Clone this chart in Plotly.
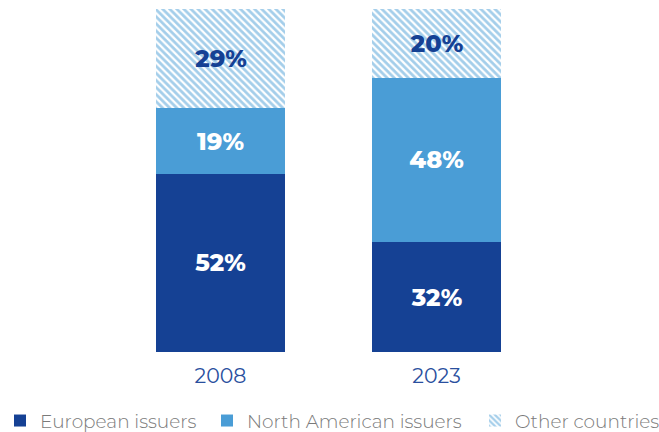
import plotly.graph_objects as go

years = ["2008", "2023"]
european = [52, 32]
north_american = [19, 48]
other = [29, 20]

DARK = "#154194"
LIGHT = "#4a9dd6"
LABEL_FONT = "Montserrat, Inter, sans-serif"

W, H = 659, 432
PLOT_T, PLOT_B = 9, 80
plot_h = H - PLOT_T - PLOT_B

# category axis stretched across the full width; bar centres sit at
# 220.5 px and 436.5 px, i.e. 216 px per category step
step_px = 216.0
x_lo = -220.5 / step_px
x_hi = 1 + (W - 436.5) / step_px

fig = go.Figure()

fig.add_trace(go.Bar(
    name="European issuers", x=years, y=european, legend="legend",
    marker=dict(color=DARK, line=dict(width=0)),
    texttemplate="%{y}%", textposition="inside", insidetextanchor="middle",
    textfont=dict(color="white", size=24, family=LABEL_FONT, weight=800),
))
fig.add_trace(go.Bar(
    name="North American issuers", x=years, y=north_american, legend="legend2",
    marker=dict(color=LIGHT, line=dict(width=0)),
    texttemplate="%{y}%", textposition="inside", insidetextanchor="middle",
    textfont=dict(color="white", size=24, family=LABEL_FONT, weight=800),
))
fig.add_trace(go.Bar(
    name="Other countries", x=years, y=other, legend="legend3",
    marker=dict(color="white", line=dict(width=0),
                pattern=dict(shape="\\", fgcolor=LIGHT, bgcolor="white",
                             size=5, solidity=0.55)),
    texttemplate="%{y}%", textposition="inside", insidetextanchor="middle",
    textfont=dict(color=DARK, size=24, family=LABEL_FONT, weight=800),
))

# one single-entry legend per series, laid out in a row under the bars
legend_y = -(421 - (H - PLOT_B)) / plot_h
legend_style = dict(
    orientation="h", xref="paper", yref="paper", y=legend_y,
    xanchor="left", yanchor="middle", bgcolor="rgba(0,0,0,0)",
    font=dict(size=18.5, color="#7a7a7a", family=LABEL_FONT, weight=300),
    itemclick=False, itemdoubleclick=False,
)

fig.update_layout(
    barmode="stack",
    bargap=0.4,
    width=W, height=H,
    margin=dict(l=0, r=0, t=PLOT_T, b=PLOT_B, autoexpand=False),
    paper_bgcolor="white", plot_bgcolor="white",
    uniformtext=dict(mode=False),
    xaxis=dict(type="category", range=[x_lo, x_hi],
               showgrid=False, showline=False, zeroline=False, ticks="",
               ticklabelstandoff=9,
               tickfont=dict(size=20.5, color="#2a4f9e", family=LABEL_FONT)),
    yaxis=dict(range=[0, 100], visible=False),
    legend=dict(x=0 / W, **legend_style),
    legend2=dict(x=207 / W, **legend_style),
    legend3=dict(x=475 / W, **legend_style),
    showlegend=True,
)
fig.update_traces(textangle=0, constraintext="none", cliponaxis=False)

fig.write_html("out.html")
